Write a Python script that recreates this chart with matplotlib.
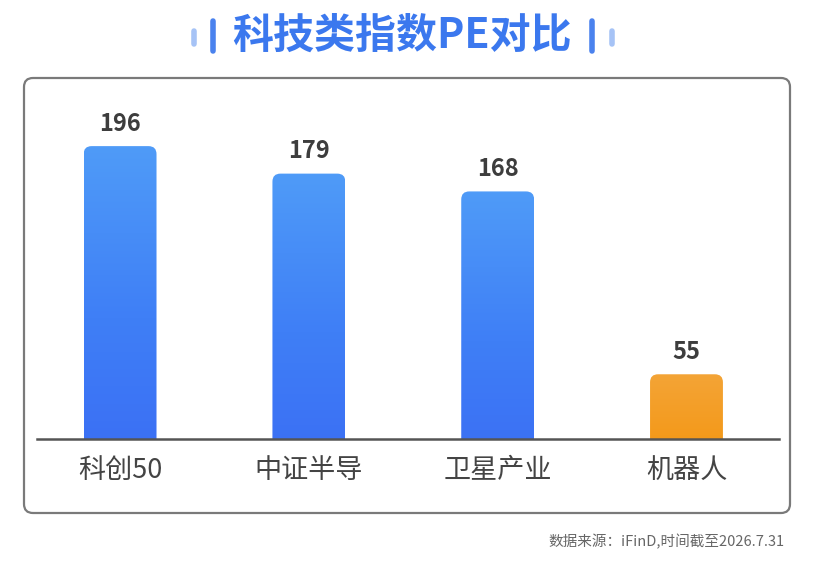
import numpy as np
import matplotlib
matplotlib.use("Agg")
import matplotlib.pyplot as plt
from matplotlib.patches import FancyBboxPatch
from matplotlib.colors import LinearSegmentedColormap

plt.rcParams['font.family'] = ['Noto Sans CJK SC', 'DejaVu Sans']

# data
categories = ["科创50", "中证半导", "卫星产业", "机器人"]
pe_values = [196, 179, 168, 55]
bar_kinds = ["blue", "blue", "blue", "orange"]
title = "科技类指数PE对比"
source = "数据来源：iFinD,时间截至2026.7.31"

W, H = 819, 563
fig = plt.figure(figsize=(W / 100, H / 100), dpi=100)
fig.patch.set_facecolor("white")

# background layer in pixel units (top-left origin)
bg = fig.add_axes([0, 0, 1, 1])
bg.set_xlim(0, W)
bg.set_ylim(H, 0)
bg.axis("off")

# rounded frame
frame = FancyBboxPatch((24, 78), 766, 435, boxstyle="round,pad=0,rounding_size=9",
                       fc="white", ec="#7a7a7a", lw=1.6)
bg.add_patch(frame)

# title with little sound-bar decorations
bg.text(402, 36, title, ha="center", va="center", fontsize=29.5,
        fontweight="bold", color="#3b78ee")
for xp, y0, y1, c in [(194, 31, 44, "#a6c3f6"), (213, 21, 51, "#4a82ee"),
                      (592, 21, 51, "#4a82ee"), (612, 31, 44, "#a6c3f6")]:
    bg.plot([xp, xp], [y0, y1], color=c, lw=4, solid_capstyle="round")

bg.text(785, 542, source, ha="right", va="center", fontsize=10.5, color="#666666")

# main bar axes
ax = fig.add_axes([37 / W, 124 / H, (779 - 37) / W, (439 - 100) / H])
ax.set_facecolor("none")
x = np.arange(len(categories))
xlim = (-0.44, 3.49)
ylim = (15, 224.5)

bars = ax.bar(x, pe_values, width=0.386, color="none", zorder=1)
ax.set_xlim(*xlim)
ax.set_ylim(*ylim)

ax_w_px = (779 - 37)
ax_h_px = (439 - 100)
px_x = ax_w_px / (xlim[1] - xlim[0])
px_y = ax_h_px / (ylim[1] - ylim[0])
aspect = px_x / px_y
r = 8 / px_x

cmaps = {
    "blue": LinearSegmentedColormap.from_list("b", ["#3a6bf4", "#3f7ff6", "#4f9bf8"]),
    "orange": LinearSegmentedColormap.from_list("o", ["#ef8700", "#f39a1c", "#f4a436"]),
}
grad = np.linspace(0, 1, 256).reshape(-1, 1)

for bar, kind, v in zip(bars, bar_kinds, pe_values):
    x0, w, h = bar.get_x(), bar.get_width(), bar.get_height()
    patch = FancyBboxPatch((x0, 0), w, h, boxstyle=f"round,pad=0,rounding_size={r}",
                           mutation_aspect=aspect, fc="none", ec="none")
    ax.add_patch(patch)
    g = grad * (h - ylim[0]) / h + ylim[0] / h
    im = ax.imshow(g, extent=(x0, x0 + w, 0, h), cmap=cmaps[kind], vmin=0, vmax=1,
                   aspect="auto", origin="lower", zorder=2)
    im.set_clip_path(patch)
    ax.annotate(str(v), (x0 + w / 2, h), xytext=(0, 11), textcoords="offset points",
                ha="center", va="baseline", fontsize=17, fontweight="bold",
                color="#3d3d3d")

ax.set_xlim(*xlim)
ax.set_ylim(*ylim)
ax.set_xticks(x, categories, fontsize=19.5, color="#444444")
ax.tick_params(axis="x", length=0, pad=13)
ax.set_yticks([])
for s in ["left", "right", "top"]:
    ax.spines[s].set_visible(False)
ax.spines["bottom"].set_color("#555555")
ax.spines["bottom"].set_linewidth(1.8)
ax.spines["bottom"].set_zorder(3)

fig.savefig("out.png", dpi=100)
